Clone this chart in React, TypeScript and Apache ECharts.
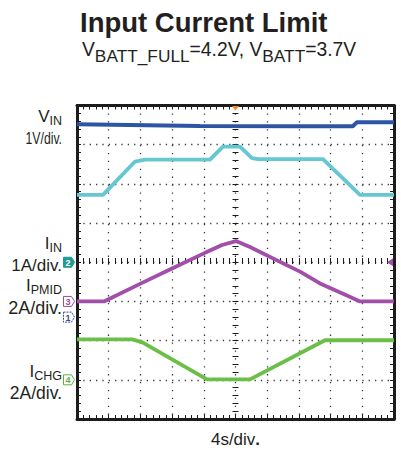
import React, { useEffect, useRef } from "react";
import * as echarts from "echarts";

const FONT = '"Liberation Sans", Arial, Helvetica, sans-serif';
const INK = "#231f20";

// Time axis: 10 divisions x 4 s/div
const timeMin = 0;
const timeMax = 40;
const timeStep = 4;
// Vertical: 8 screen divisions
const divMin = 0;
const divMax = 8;
const divStep = 1;

// Traces: time (s) and vertical position (screen divisions from bottom)
const vinTime = [0, 15.5, 28.1, 34.8, 35.3, 40];
const vinDiv = [7.52, 7.48, 7.47, 7.47, 7.57, 7.57];

const ch2Time = [0, 3.28, 7.32, 8.58, 16.78, 18.42, 20.57, 22.08, 22.84, 31.04, 35.71, 40];
const ch2Div = [5.72, 5.72, 6.57, 6.62, 6.62, 6.95, 6.95, 6.66, 6.63, 6.63, 5.72, 5.72];

const ch3Time = [0, 3.41, 8.08, 11.99, 16.15, 18.3, 20.06, 21.83, 25.62, 28.14, 30.66, 34.07, 35.71, 40];
const ch3Div = [3.0, 3.0, 3.46, 3.84, 4.24, 4.44, 4.54, 4.39, 4.01, 3.76, 3.46, 3.15, 3.0, 3.0];

const ichgTime = [0, 6.94, 8.2, 16.4, 21.83, 31.29, 40];
const ichgDiv = [2.03, 2.03, 1.96, 1.01, 1.01, 2.01, 2.01];

const traceNames = ["VIN", "CH2", "CH3", "ICHG"];
const traceColors = ["#2d55a5", "#64c7d3", "#a24fa9", "#6bbf46"];

// Channel reference markers (division positions)
const markerNames = ["2", "3", "1", "4"];
const markerDivs = [4, 3, 2.6, 1];
const markerColors = ["#1f9a97", "#9b4aa5", "#34489a", "#5cb23a"];

// Left labels
const labelMain = ["V", "I", "I", "I"];
const labelSub = ["IN", "IN", "PMID", "CHG"];
const labelScale = ["1V/div.", "1A/div.", "2A/div.", "2A/div."];

const titleText = "Input Current Limit";
const subtitleParts = ["V", "BATT_FULL", "=4.2V, V", "BATT", "=3.7V"];
const xName = "4s/div";

export default function App() {
  const ref = useRef<HTMLDivElement>(null);
  useEffect(() => {
    document.body.style.margin = "0";
    const chart = echarts.init(ref.current!, null, { renderer: "svg" });
    const zip = (t: number[], d: number[]) => t.map((v, i) => [v, d[i]]);
    const frame = { color: "#1c1c1c", width: 3 };
    const tickStyle = { color: "#1c1c1c", width: 1 };
    const xBase = {
      type: "value",
      min: timeMin,
      max: timeMax,
      interval: timeStep,
      axisLabel: { show: false },
      axisLine: { show: true, onZero: false, lineStyle: frame },
      axisTick: { show: true, inside: true, length: 4, lineStyle: tickStyle },
      minorTick: { show: true, splitNumber: 5, length: 4, lineStyle: tickStyle },
      splitLine: { show: false },
    };
    const yBase = {
      type: "value",
      min: divMin,
      max: divMax,
      interval: divStep,
      axisLabel: { show: false },
      axisLine: { show: true, onZero: false, lineStyle: frame },
      axisTick: { show: true, inside: true, length: 4, lineStyle: tickStyle },
      minorTick: { show: true, splitNumber: 5, length: 4, lineStyle: tickStyle },
      splitLine: { show: false },
    };
    const gridH = 316;
    const gridW = 317;
    const subText = subtitleParts
      .map((p, i) => (i % 2 === 0 ? `{m|${p}}` : `{s|${p}}`))
      .join("");
    chart.setOption({
      animation: false,
      title: [
        {
          text: titleText,
          left: 75,
          top: 3,
          textStyle: { fontFamily: FONT, fontSize: 27.5, fontWeight: "bold", color: INK },
        },
        {
          text: subText,
          left: 77,
          top: 34,
          textStyle: {
            fontWeight: "normal",
            rich: {
              m: { fontFamily: FONT, fontSize: 19.3, fontWeight: "normal", color: INK, padding: [0, 0, 4, 0] },
              s: { fontFamily: FONT, fontSize: 17.3, fontWeight: "normal", color: INK, padding: [8, 0, 0, 0] },
            },
          },
        },
      ],
      grid: { left: 77, top: 105.5, width: gridW, height: gridH, containLabel: false },
      xAxis: [
        {
          ...xBase,
          position: "bottom",
          splitLine: { show: true, lineStyle: { color: "#3a3a3a", width: 1.3, type: [1.3, 6.6] } },
          name: `{a|${xName}}{b|.}`,
          nameLocation: "middle",
          nameGap: 12,
          nameTextStyle: {
            rich: {
              a: { fontFamily: FONT, fontSize: 17, color: INK },
              b: { fontFamily: FONT, fontSize: 17, fontWeight: "bold", color: INK },
            },
          },
        },
        { ...xBase, position: "top" },
        {
          ...xBase,
          position: "bottom",
          offset: -(gridH / 2) + 3,
          axisLine: { show: false, onZero: false },
          axisTick: { show: true, inside: true, length: 6, lineStyle: tickStyle },
          minorTick: { show: true, splitNumber: 5, length: 6, lineStyle: tickStyle },
        },
      ],
      yAxis: [
        {
          ...yBase,
          position: "left",
          splitLine: { show: true, lineStyle: { color: "#3a3a3a", width: 1.3, type: [1.3, 5.04] } },
        },
        { ...yBase, position: "right" },
        {
          ...yBase,
          position: "left",
          offset: -(gridW / 2) + 3,
          axisLine: { show: false, onZero: false },
          axisTick: { show: true, inside: true, length: 6, lineStyle: tickStyle },
          minorTick: { show: true, splitNumber: 5, length: 6, lineStyle: tickStyle },
        },
      ],
      series: [
        [vinTime, vinDiv],
        [ch2Time, ch2Div],
        [ch3Time, ch3Div],
        [ichgTime, ichgDiv],
      ].map(([t, d], i) => ({
        name: traceNames[i],
        type: "line",
        xAxisIndex: 0,
        yAxisIndex: 0,
        data: zip(t, d),
        symbol: "none",
        z: 5,
        lineStyle: { color: traceColors[i], width: i === 0 ? 4 : 3.8 },
        itemStyle: { color: traceColors[i] },
      })),
    });

    const toPx = (t: number, d: number) =>
      chart.convertToPixel({ seriesIndex: 0 }, [t, d]) as number[];
    const [x0, yTop] = toPx(timeMin, divMax);
    const [x1] = toPx(timeMax, divMax);
    const [xMid] = toPx((timeMin + timeMax) / 2, divMax);

    const markers = markerNames.map((n, i) => {
      const [, y] = toPx(timeMin, markerDivs[i]);
      const tip = x0 - 2.5;
      const filled = i === 0;
      return {
        type: "group",
        z: 20,
        children: [
          {
            type: "polygon",
            shape: {
              points: [
                [tip - 11, y - 5],
                [tip - 3, y - 5],
                [tip, y],
                [tip - 3, y + 5],
                [tip - 11, y + 5],
              ],
            },
            style: {
              fill: filled ? markerColors[i] : "#ffffff",
              stroke: markerColors[i],
              lineWidth: 1,
              lineDash: n === "1" ? [2, 1] : null,
            },
          },
          {
            type: "text",
            x: tip - 6.5,
            y: y + 0.5,
            style: {
              text: n,
              align: "center",
              verticalAlign: "middle",
              font: `bold 9px ${FONT}`,
              fill: filled ? "#ffffff" : markerColors[i],
            },
          },
        ],
      };
    });

    const [, yCh3] = toPx(timeMax, markerDivs[0]);
    const extras = [
      {
        type: "polygon",
        z: 20,
        shape: { points: [[xMid - 3.5, yTop + 0.5], [xMid + 3.5, yTop + 0.5], [xMid, yTop + 5]] },
        style: { fill: "#f08a24" },
      },
      {
        type: "polygon",
        z: 20,
        shape: { points: [[x1 - 1, yCh3 - 4], [x1 - 1, yCh3 + 4], [x1 - 7, yCh3]] },
        style: { fill: traceColors[2] },
      },
    ];

    // text measuring for subscript layout
    const ctx = document.createElement("canvas").getContext("2d")!;
    const measure = (s: string, size: number) => {
      ctx.font = `${size}px ${FONT}`;
      return ctx.measureText(s).width;
    };
    const labelRight = 62;
    const mainSize = 17;
    const subSize = 12.5;
    const mainBase = [122, 249.5, 291, 377];
    const subDrop = 3;
    const scaleBase = [144, 271.5, 314.5, 399.5];
    const scaleX = [0.72, 1, 1, 1];
    const scaleSize = [17, 17, 18, 17.5];
    const midY = (base: number, size: number) => base - size * 0.35;
    const labels = labelMain.flatMap((m, i) => {
      const subW = measure(labelSub[i], subSize);
      return [
        {
          type: "text",
          x: labelRight - subW,
          y: midY(mainBase[i], mainSize),
          style: {
            text: m,
            align: "right",
            verticalAlign: "middle",
            font: `${mainSize}px ${FONT}`,
            fill: INK,
          },
        },
        {
          type: "text",
          x: labelRight,
          y: midY(mainBase[i] + subDrop, subSize),
          style: {
            text: labelSub[i],
            align: "right",
            verticalAlign: "middle",
            font: `${subSize}px ${FONT}`,
            fill: INK,
          },
        },
        {
          type: "text",
          x: labelRight,
          y: midY(scaleBase[i], scaleSize[i]),
          scaleX: scaleX[i],
          style: {
            text: labelScale[i],
            align: "right",
            verticalAlign: "middle",
            font: `${scaleSize[i]}px ${FONT}`,
            fill: INK,
          },
        },
      ];
    });

    chart.setOption({ graphic: [...markers, ...extras, ...labels] });
    return () => chart.dispose();
  }, []);
  return <div ref={ref} style={{ width: 401, height: 453 }} />;
}
